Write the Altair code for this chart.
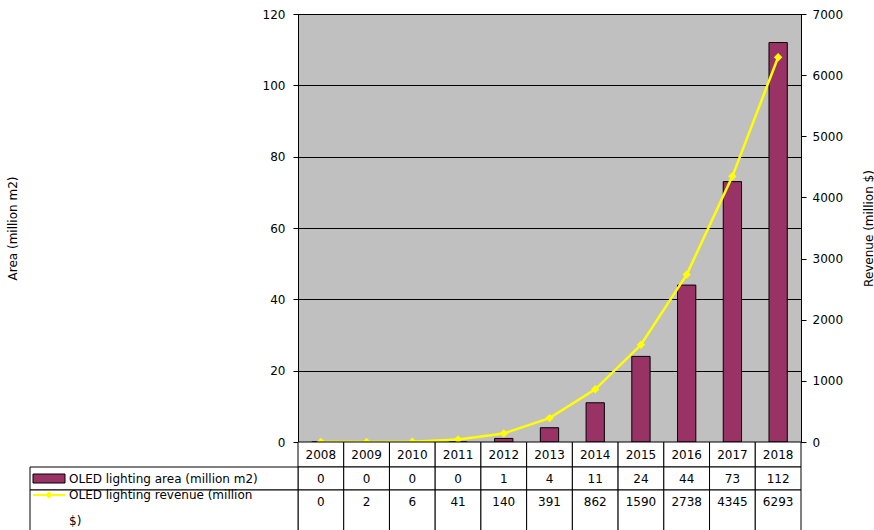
import altair as alt
import pandas as pd

years = ["2008", "2009", "2010", "2011", "2012", "2013", "2014", "2015", "2016", "2017", "2018"]
area = [0, 0, 0, 0, 1, 4, 11, 24, 44, 73, 112]
revenue = [0, 2, 6, 41, 140, 391, 862, 1590, 2738, 4345, 6293]
area_label = "OLED lighting area (million m2)"
revenue_label = "OLED lighting revenue (million $)"
left_ticks = [0, 20, 40, 60, 80, 100, 120]
right_ticks = [0, 1000, 2000, 3000, 4000, 5000, 6000, 7000]
left_title = "Area (million m2)"
right_title = "Revenue (million $)"

BAR = "#993366"
LINE = "#FFFF00"
FONT = "DejaVu Sans"

df = pd.DataFrame({"year": years, "area": area, "revenue": revenue})
base = alt.Chart(df)

X = alt.X("year:O", sort=years, axis=None,
          scale=alt.Scale(type="band", paddingInner=0, paddingOuter=0))

bars = base.mark_bar(color=BAR, stroke="black", strokeWidth=1,
                     width=alt.RelativeBandSize(0.4)).encode(
    x=X,
    y=alt.Y("area:Q", scale=alt.Scale(domain=[0, 120]),
            axis=alt.Axis(orient="left", values=left_ticks, title=left_title,
                          grid=True, gridColor="black", gridWidth=1,
                          tickSize=5, labelPadding=8, format="d",
                          titleX=-286, titleY=214, titleAngle=270,
                          titleAlign="center", titleBaseline="middle")),
)

ry = alt.Y("revenue:Q", scale=alt.Scale(domain=[0, 7000]),
           axis=alt.Axis(orient="right", values=right_ticks, title=right_title,
                         grid=False, tickSize=5, labelPadding=6, format="d",
                         titleX=67, titleY=214, titleAngle=270,
                         titleAlign="center", titleBaseline="middle"))
line = base.mark_line(color=LINE, strokeWidth=2.5).encode(x=X, y=ry)
pts = base.mark_point(shape="diamond", filled=True, size=70, color=LINE, opacity=1).encode(x=X, y=ry)
rev = alt.layer(line, pts)

# data table below the plot
def cells(y0, y1):
    return base.mark_rect(fill="white", stroke="black", strokeWidth=1).encode(
        x=X, y=alt.value(y0), y2=alt.value(y1))

year_cells = cells(428, 453)
area_cells = cells(453, 476)
rev_cells = cells(476, 545)
txt = dict(font=FONT, fontSize=12, color="black", baseline="middle")
year_text = base.mark_text(**txt).encode(x=X, y=alt.value(441), text="year:N")
area_text = base.mark_text(**txt).encode(x=X, y=alt.value(465), text=alt.Text("area:Q", format="d"))
rev_text = base.mark_text(**txt).encode(x=X, y=alt.value(488), text=alt.Text("revenue:Q", format="d"))

one = alt.Chart(pd.DataFrame({"k": [0]}))
lab_area_cell = one.mark_rect(fill="white", stroke="black", strokeWidth=1).encode(
    x=alt.value(-268), x2=alt.value(0), y=alt.value(453), y2=alt.value(476))
lab_rev_cell = one.mark_rect(fill="white", stroke="black", strokeWidth=1).encode(
    x=alt.value(-268), x2=alt.value(0), y=alt.value(476), y2=alt.value(545))
sw_area = one.mark_rect(fill=BAR, stroke="black", strokeWidth=1).encode(
    x=alt.value(-265), x2=alt.value(-233), y=alt.value(460), y2=alt.value(469))
sw_rev_line = one.mark_rule(color=LINE, strokeWidth=2).encode(
    x=alt.value(-265), x2=alt.value(-233), y=alt.value(481))
sw_rev_pt = one.mark_point(shape="diamond", filled=True, size=60, color=LINE, opacity=1).encode(
    x=alt.value(-249), y=alt.value(481))
lab_area_text = one.mark_text(align="left", **txt).encode(
    x=alt.value(-229), y=alt.value(465), text=alt.value(area_label))
lab_rev_text = one.mark_text(align="left", lineHeight=26, **txt).encode(
    x=alt.value(-229), y=alt.value(481), text=alt.value(revenue_label.rsplit(" ", 1)))

chart = alt.layer(
    bars, rev,
    year_cells, area_cells, rev_cells, year_text, area_text, rev_text,
    lab_area_cell, lab_rev_cell, sw_area, sw_rev_line, sw_rev_pt, lab_area_text, lab_rev_text,
).resolve_scale(y="independent").properties(
    width=503, height=428,
    autosize="none",
    padding={"left": 298, "top": 14, "right": 73, "bottom": 88},
    background="white",
).configure_view(fill="#C0C0C0", stroke="black", strokeWidth=1).configure_axis(
    domainColor="black", tickColor="black", labelColor="black", titleColor="black",
    labelFont=FONT, titleFont=FONT, labelFontSize=12, titleFontSize=12,
    titleFontWeight="normal",
)

chart.save("out.html", embed_options={"renderer": "svg", "actions": False})
